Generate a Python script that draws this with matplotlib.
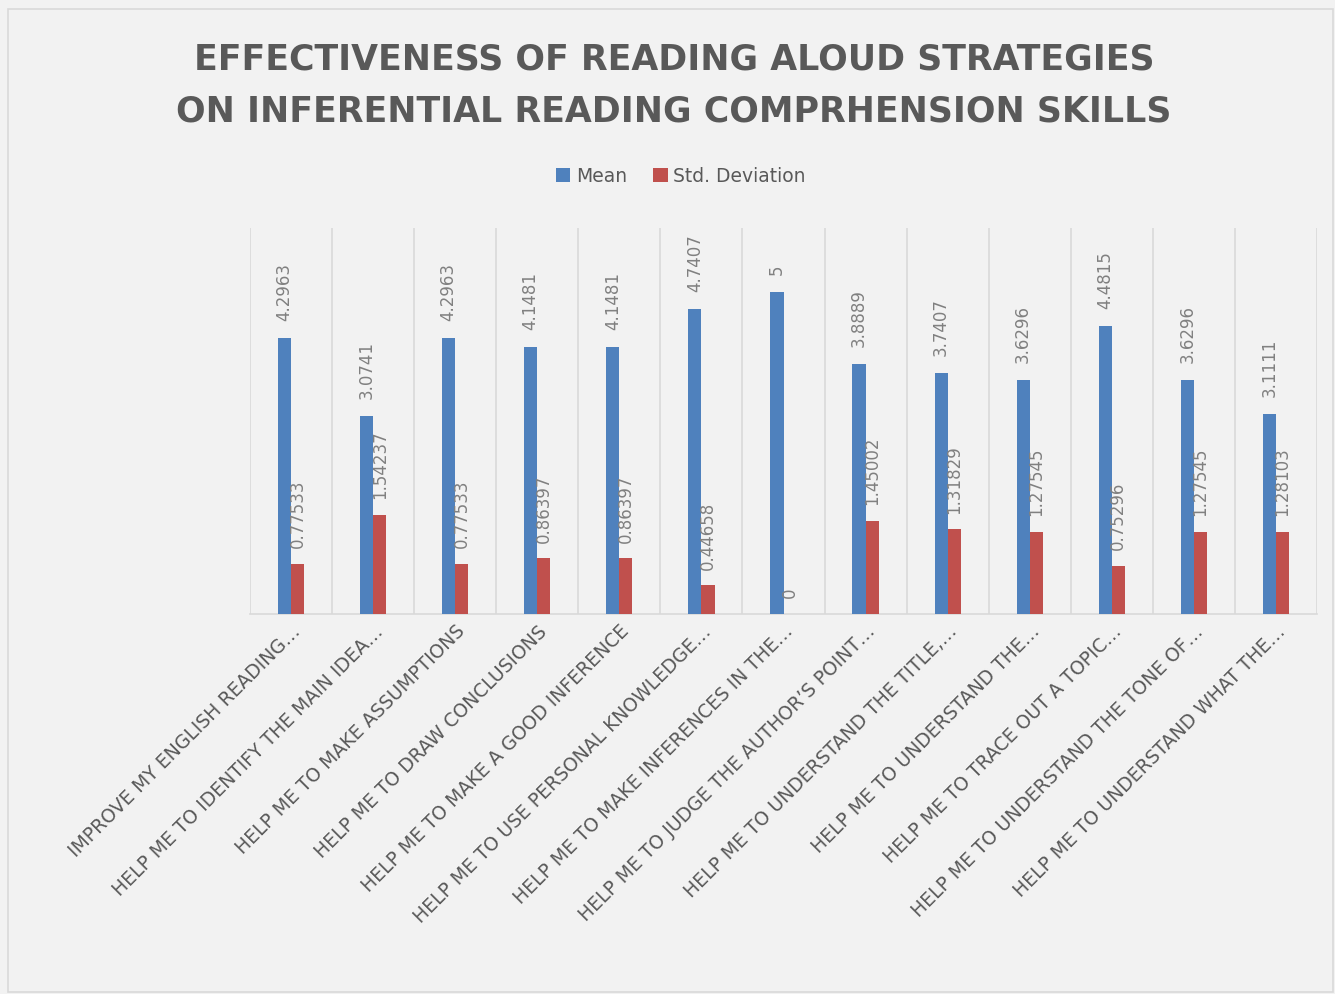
import numpy as np
import matplotlib
matplotlib.use('Agg')
import matplotlib.pyplot as plt
from matplotlib.patches import Rectangle

categories = [
    "IMPROVE MY ENGLISH READING…",
    "HELP ME TO IDENTIFY THE MAIN IDEA…",
    "HELP ME TO MAKE ASSUMPTIONS",
    "HELP ME TO DRAW CONCLUSIONS",
    "HELP ME TO MAKE A GOOD INFERENCE",
    "HELP ME TO USE PERSONAL KNOWLEDGE…",
    "HELP ME TO MAKE INFERENCES IN THE…",
    "HELP ME TO JUDGE THE AUTHOR’S POINT…",
    "HELP ME TO UNDERSTAND THE TITLE,…",
    "HELP ME TO UNDERSTAND THE…",
    "HELP ME TO TRACE OUT A TOPIC…",
    "HELP ME TO UNDERSTAND THE TONE OF…",
    "HELP ME TO UNDERSTAND WHAT THE…",
]
mean_vals = [4.2963, 3.0741, 4.2963, 4.1481, 4.1481, 4.7407, 5,
             3.8889, 3.7407, 3.6296, 4.4815, 3.6296, 3.1111]
std_vals = [0.77533, 1.54237, 0.77533, 0.86397, 0.86397, 0.44658, 0,
            1.45002, 1.31829, 1.27545, 0.75296, 1.27545, 1.28103]
mean_labels = ["4.2963", "3.0741", "4.2963", "4.1481", "4.1481", "4.7407", "5",
               "3.8889", "3.7407", "3.6296", "4.4815", "3.6296", "3.1111"]
std_labels = ["0.77533", "1.54237", "0.77533", "0.86397", "0.86397", "0.44658", "0",
              "1.45002", "1.31829", "1.27545", "0.75296", "1.27545", "1.28103"]

blue = '#4F81BD'
red = '#C0504D'
bg = '#F2F2F2'
text_dark = '#595959'
label_gray = '#808080'
grid_gray = '#D9D9D9'

fig = plt.figure(figsize=(13.35, 9.95), dpi=100, facecolor=bg)
ax = fig.add_axes([250 / 1335, 1 - 615 / 995, (1317 - 250) / 1335, (615 - 229) / 995])
ax.set_facecolor(bg)

x = np.arange(len(categories))
w = 0.16
b1 = ax.bar(x - w / 2, mean_vals, w, color=blue, label='Mean', zorder=3)
b2 = ax.bar(x + w / 2, std_vals, w, color=red, label='Std. Deviation', zorder=3)

# data labels, rotated like excel
for rect, lab in zip(b1, mean_labels):
    ax.annotate(lab, (rect.get_x() + rect.get_width() / 2, rect.get_height()),
                xytext=(0, 13), textcoords='offset points', rotation=90,
                ha='center', va='bottom', fontsize=12, color=label_gray, zorder=4)
for rect, lab in zip(b2, std_labels):
    ax.annotate(lab, (rect.get_x() + rect.get_width() / 2, rect.get_height()),
                xytext=(0, 12), textcoords='offset points', rotation=90,
                ha='center', va='bottom', fontsize=12, color=label_gray, zorder=4)

ax.set_xlim(-0.5, len(categories) - 0.5)
ax.set_ylim(0, 6)
ax.set_yticks([])
ax.set_xticks(x)
ax.set_xticklabels(categories, rotation=45, ha='right', va='top',
                   rotation_mode='anchor', fontsize=13.5, color=text_dark)
ax.tick_params(axis='x', which='major', length=0, pad=5)
ax.set_xticks(np.arange(-0.5, len(categories)), minor=True)
ax.tick_params(axis='x', which='minor', length=0)
ax.grid(which='minor', axis='x', color=grid_gray, linewidth=1.2, zorder=0)

for s in ['top', 'right', 'left']:
    ax.spines[s].set_visible(False)
ax.spines['bottom'].set_color(grid_gray)
ax.spines['bottom'].set_linewidth(1.2)

fig.text(674 / 1335, 1 - 60 / 995, "EFFECTIVENESS OF READING ALOUD STRATEGIES",
         ha='center', va='center', fontsize=25, fontweight='bold', color=text_dark)
fig.text(674 / 1335, 1 - 111 / 995, "ON INFERENTIAL READING COMPRHENSION SKILLS",
         ha='center', va='center', fontsize=25, fontweight='bold', color=text_dark)

fig.legend(handles=[b1, b2], loc='center', bbox_to_anchor=(681 / 1335, 1 - 177 / 995),
           ncol=2, frameon=False, fontsize=13.5, handlelength=0.75, handleheight=0.75,
           handletextpad=0.3, columnspacing=1.4, labelcolor=text_dark)

# chart border
fig.patches.append(Rectangle((8 / 1335, 2 / 995), 1325 / 1335, 983 / 995,
                             transform=fig.transFigure, fill=False,
                             edgecolor=grid_gray, linewidth=1.2))

fig.savefig('out.png', dpi=100, facecolor=bg)
